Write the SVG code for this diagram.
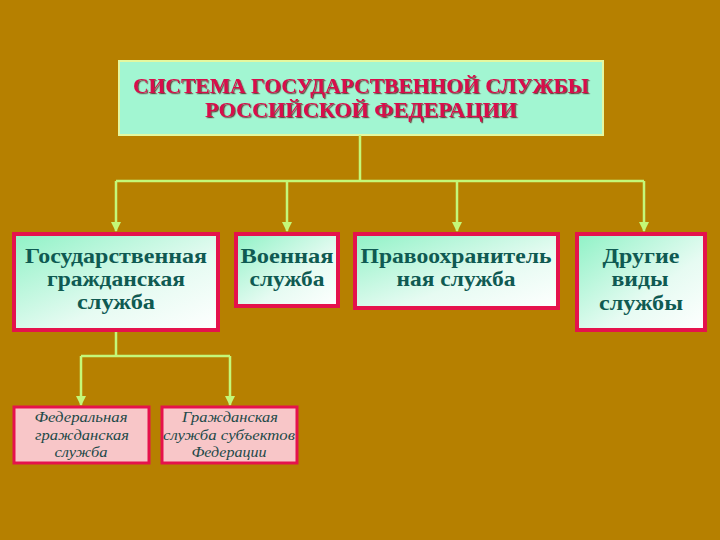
<svg xmlns="http://www.w3.org/2000/svg" width="720" height="540" viewBox="0 0 720 540">
<defs>
<linearGradient id="aq" x1="0" y1="0" x2="1" y2="1">
<stop offset="0" stop-color="#8FF2C6"/>
<stop offset="0.6" stop-color="#E6FBF2"/>
<stop offset="1" stop-color="#FFFFFF"/>
</linearGradient>
<marker id="arr" viewBox="0 0 10 10" refX="9" refY="5" markerWidth="4" markerHeight="4" orient="auto">
<path d="M0,0 L10,5 L0,10 z" fill="#C4F878"/>
</marker>
<filter id="sh" x="-5%" y="-20%" width="110%" height="140%">
<feDropShadow dx="1.2" dy="1.2" stdDeviation="0.4" flood-color="#5A2020" flood-opacity="0.8"/>
</filter>
</defs>
<style>
.title{font-family:"Liberation Serif",serif;font-weight:bold;font-size:20px;fill:#D8104C;text-anchor:middle}
.main{font-family:"Liberation Serif",serif;font-weight:bold;font-size:21px;fill:#0F5A52;text-anchor:middle}
.sub{font-family:"Liberation Serif",serif;font-style:italic;font-size:15px;fill:#1E4A48;text-anchor:middle}
.box{fill:url(#aq);stroke:#E5124C;stroke-width:4}
.pbox{fill:#F8C6C8;stroke:#E5124C;stroke-width:3}
.con{fill:none;stroke:#C4F878;stroke-width:2.5}
</style>
<rect width="720" height="540" fill="#B68000"/>
<g id="title">
<rect x="119" y="61" width="484" height="74" fill="#A2F6D2" stroke="#E4F8A0" stroke-width="2"/>
<g filter="url(#sh)">
<text class="title" x="361" y="93" textLength="456" lengthAdjust="spacingAndGlyphs">СИСТЕМА ГОСУДАРСТВЕННОЙ СЛУЖБЫ</text>
<text class="title" x="361" y="117" textLength="312" lengthAdjust="spacingAndGlyphs">РОССИЙСКОЙ ФЕДЕРАЦИИ</text>
</g>
</g>
<g id="connectors">
<path class="con" d="M360,135 V181 M116,181 H644"/>
<path class="con" d="M116,181 V231" marker-end="url(#arr)"/>
<path class="con" d="M287,181 V231" marker-end="url(#arr)"/>
<path class="con" d="M457,181 V231" marker-end="url(#arr)"/>
<path class="con" d="M644,181 V231" marker-end="url(#arr)"/>
<path class="con" d="M116,330 V356 M81,356 H230"/>
<path class="con" d="M81,356 V405" marker-end="url(#arr)"/>
<path class="con" d="M230,356 V405" marker-end="url(#arr)"/>
</g>
<g id="n1">
<rect class="box" x="14" y="234" width="204" height="96"/>
<text class="main" x="116" y="263" textLength="182" lengthAdjust="spacingAndGlyphs">Государственная</text>
<text class="main" x="116" y="286" textLength="138" lengthAdjust="spacingAndGlyphs">гражданская</text>
<text class="main" x="116" y="309" textLength="78" lengthAdjust="spacingAndGlyphs">служба</text>
</g>
<g id="n2">
<rect class="box" x="236" y="234" width="102" height="72"/>
<text class="main" x="287" y="263" textLength="93" lengthAdjust="spacingAndGlyphs">Военная</text>
<text class="main" x="287" y="286" textLength="75" lengthAdjust="spacingAndGlyphs">служба</text>
</g>
<g id="n3">
<rect class="box" x="355" y="234" width="203" height="74"/>
<text class="main" x="456" y="263" textLength="191" lengthAdjust="spacingAndGlyphs">Правоохранитель</text>
<text class="main" x="456" y="286" textLength="119" lengthAdjust="spacingAndGlyphs">ная служба</text>
</g>
<g id="n4">
<rect class="box" x="577" y="234" width="128" height="96"/>
<text class="main" x="641" y="263" textLength="77" lengthAdjust="spacingAndGlyphs">Другие</text>
<text class="main" x="640" y="286" textLength="57" lengthAdjust="spacingAndGlyphs">виды</text>
<text class="main" x="641" y="310" textLength="84" lengthAdjust="spacingAndGlyphs">службы</text>
</g>
<g id="n5">
<rect class="pbox" x="14" y="407" width="135" height="56"/>
<text class="sub" x="81" y="422" textLength="93" lengthAdjust="spacingAndGlyphs">Федеральная</text>
<text class="sub" x="82" y="440" textLength="94" lengthAdjust="spacingAndGlyphs">гражданская</text>
<text class="sub" x="81" y="457" textLength="53" lengthAdjust="spacingAndGlyphs">служба</text>
</g>
<g id="n6">
<rect class="pbox" x="162" y="407" width="135" height="56"/>
<text class="sub" x="230" y="422" textLength="96" lengthAdjust="spacingAndGlyphs">Гражданская</text>
<text class="sub" x="229" y="440" textLength="132" lengthAdjust="spacingAndGlyphs">служба субъектов</text>
<text class="sub" x="229" y="457" textLength="75" lengthAdjust="spacingAndGlyphs">Федерации</text>
</g>
</svg>
